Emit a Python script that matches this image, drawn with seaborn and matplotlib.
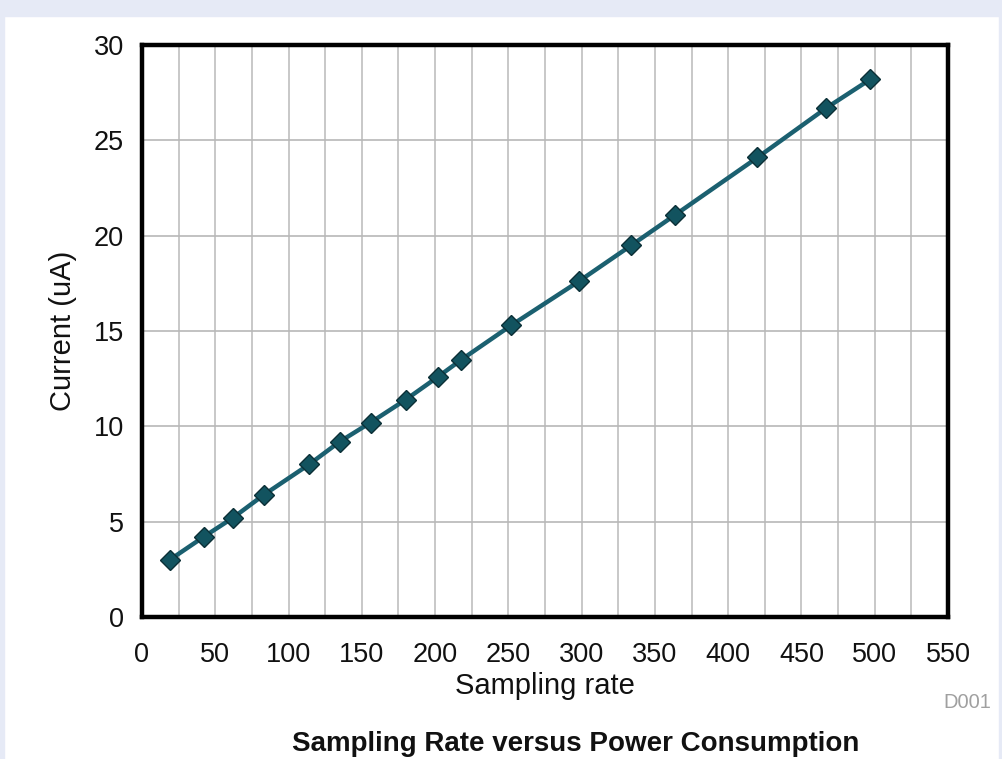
import matplotlib
matplotlib.use("Agg")
import matplotlib.pyplot as plt
import seaborn as sns
import pandas as pd
from matplotlib.patches import Rectangle

sampling_rate = [19, 42, 62, 83, 114, 135, 156, 180, 202, 218, 252, 298, 334, 364, 420, 467, 497]
current_ua = [3.0, 4.2, 5.2, 6.4, 8.0, 9.2, 10.2, 11.4, 12.6, 13.5, 15.3, 17.6, 19.5, 21.1, 24.1, 26.7, 28.2]
x_ticks = [0, 50, 100, 150, 200, 250, 300, 350, 400, 450, 500, 550]
y_ticks = [0, 5, 10, 15, 20, 25, 30]

df = pd.DataFrame({"Sampling rate": sampling_rate, "Current (uA)": current_ua})

sns.set_theme(style="white")
plt.rcParams['font.family'] = ['Liberation Sans', 'DejaVu Sans']

fig = plt.figure(figsize=(10.03, 7.59), dpi=100)
fig.patch.set_facecolor("white")
# lavender frame
frame_col = "#E6EAF6"
fig.patches.append(Rectangle((0, 1 - 16/759), 1, 16/759, transform=fig.transFigure, color=frame_col, zorder=0))
fig.patches.append(Rectangle((0, 0), 4/1003, 1, transform=fig.transFigure, color=frame_col, zorder=0))
fig.patches.append(Rectangle((1 - 4/1003, 0), 4/1003, 1, transform=fig.transFigure, color=frame_col, zorder=0))

ax = fig.add_axes([142/1003, 1 - 617/759, (948-142)/1003, (617-45)/759])
sns.lineplot(data=df, x="Sampling rate", y="Current (uA)", ax=ax, color="#1B6070",
             linewidth=3.2, marker="D", markersize=10.5, markerfacecolor="#12535F",
             markeredgecolor="#0B2F36", markeredgewidth=1.0)

ax.set_xlim(0, 550)
ax.set_ylim(0, 30)
ax.set_xticks(x_ticks)
ax.set_yticks(y_ticks)
ax.set_xticks(range(25, 550, 50), minor=True)
ax.grid(True, which="both", axis="x", color="#C4C4C4", linewidth=1.3)
ax.grid(True, which="major", axis="y", color="#B8B8B8", linewidth=1.2)
ax.set_axisbelow(True)
ax.tick_params(axis="both", which="both", length=0, labelsize=19.5, colors="#111111")
ax.tick_params(axis="x", pad=18)
ax.tick_params(axis="y", pad=13)
for s in ax.spines.values():
    s.set_visible(True)
    s.set_color("black")
    s.set_linewidth(3.2)

ax.set_xlabel("Sampling rate", fontsize=21, color="#111111", labelpad=3)
ax.set_ylabel("Current (uA)", fontsize=21, color="#111111", labelpad=12)

fig.text(967/1003, 1 - 702/759, "D001", fontsize=14.5, color="#A0A0A0", ha="center", va="center")
fig.text(576/1003, 1 - 744/759, "Sampling Rate versus Power Consumption", fontsize=20,
         fontweight="bold", color="#111111", ha="center", va="center")

fig.savefig("out.png", dpi=100)
